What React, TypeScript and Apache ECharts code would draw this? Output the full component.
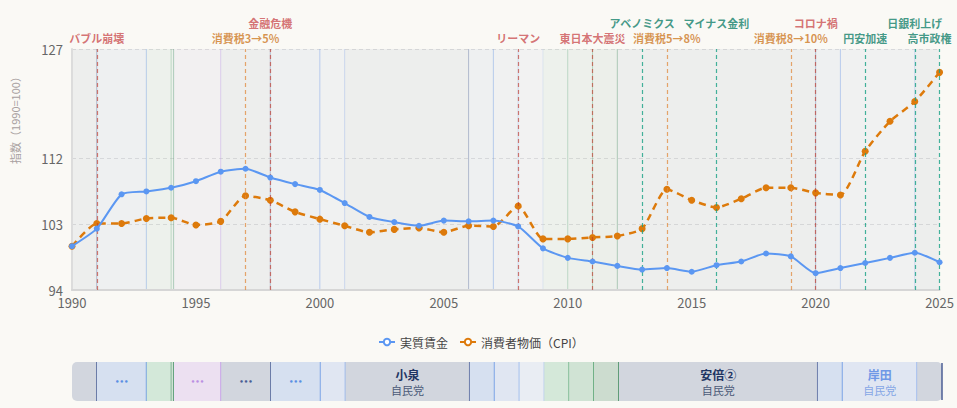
import React, { useEffect, useRef } from "react";
import * as echarts from "echarts";

// ---- data ----
const years = [1990, 1991, 1992, 1993, 1994, 1995, 1996, 1997, 1998, 1999, 2000, 2001, 2002, 2003, 2004, 2005, 2006, 2007, 2008, 2009, 2010, 2011, 2012, 2013, 2014, 2015, 2016, 2017, 2018, 2019, 2020, 2021, 2022, 2023, 2024, 2025];
const realWage = [100, 102.4, 107.1, 107.5, 108.0, 108.9, 110.2, 110.6, 109.4, 108.5, 107.7, 105.9, 104.0, 103.3, 102.8, 103.5, 103.4, 103.5, 102.7, 99.7, 98.4, 97.9, 97.3, 96.8, 97.0, 96.5, 97.4, 97.9, 99.0, 98.6, 96.3, 97.0, 97.7, 98.4, 99.1, 97.8];
const cpi = [100, 103.1, 103.1, 103.8, 103.9, 102.9, 103.4, 106.9, 106.3, 104.7, 103.7, 102.8, 101.9, 102.3, 102.5, 101.9, 102.8, 102.7, 105.5, 101.0, 101.0, 101.2, 101.4, 102.4, 107.8, 106.3, 105.3, 106.5, 108.0, 108.0, 107.3, 107.0, 113.0, 117.1, 119.8, 123.8];
const yTicks = [94, 103, 112, 127];

const eventYears = [1991, 1997, 1998, 2008, 2011, 2013, 2014, 2016, 2019, 2020, 2022, 2024, 2025];
const eventLabels = ["バブル崩壊", "消費税3→5%", "金融危機", "リーマン", "東日本大震災", "アベノミクス", "消費税5→8%", "マイナス金利", "消費税8→10%", "コロナ禍", "円安加速", "日銀利上げ", "高市政権"];
const eventKinds = ["crisis", "tax", "crisis", "crisis", "crisis", "policy", "tax", "policy", "tax", "crisis", "policy", "policy", "policy"];
const eventTier = [0, 0, 1, 0, 0, 1, 0, 1, 0, 1, 0, 1, 0];

const cabinetNames = ["海部", "宮澤", "細川", "羽田", "村山", "橋本", "小渕", "森", "小泉", "安倍①", "福田", "麻生", "鳩山", "菅", "野田", "安倍②", "菅", "岸田", "石破"];
const cabinetStart = [1990, 1991, 1993, 1994, 1994.1, 1996, 1998, 2000, 2001, 2006, 2007, 2008, 2009, 2010, 2011, 2012, 2020, 2021, 2024];
const cabinetEnd = [1991, 1993, 1994, 1994.1, 1996, 1998, 2000, 2001, 2006, 2007, 2008, 2009, 2010, 2011, 2012, 2020, 2021, 2024, 2025];
const cabinetParty = ["自民党", "自民党", "日本新党", "新生党", "社会党", "自民党", "自民党", "自民党", "自民党", "自民党", "自民党", "自民党", "民主党", "民主党", "民主党", "自民党", "自民党", "自民党", "自民党"];
const cabinetTone = ["ldp1", "ldp2", "jnp", "shinsei", "jsp", "ldp1", "ldp2", "ldp3", "ldp1", "ldp2", "ldp3", "ldp4", "dpj1", "dpj2", "dpj3", "ldp1", "ldp2", "ldp3", "ldp1"];

// ---- styles ----
const TONES: Record<string, { fill: string; accent: string; text: string; sub: string }> = {
  ldp1: { fill: "#d2d6de", accent: "#4b5e94", text: "#1f3563", sub: "#4b5a78" },
  ldp2: { fill: "#d6e0f0", accent: "#5b8fe3", text: "#4f7fd6", sub: "#5a7ab8" },
  ldp3: { fill: "#e0e6f2", accent: "#8fb1ec", text: "#6f98e6", sub: "#86a6e6" },
  ldp4: { fill: "#e9edf3", accent: "#b8cdee", text: "#8fb1ec", sub: "#8fb1ec" },
  jnp: { fill: "#d3e8d9", accent: "#6aa882", text: "#3f8a5b", sub: "#3f8a5b" },
  shinsei: { fill: "#cfe2d4", accent: "#3f9060", text: "#3f8a5b", sub: "#3f8a5b" },
  jsp: { fill: "#ece0f1", accent: "#bb90e3", text: "#b07ee0", sub: "#b07ee0" },
  dpj1: { fill: "#d4e8d9", accent: "#6cb084", text: "#3f8a5b", sub: "#3f8a5b" },
  dpj2: { fill: "#d0e3d4", accent: "#52a06e", text: "#3f8a5b", sub: "#3f8a5b" },
  dpj3: { fill: "#ccdccf", accent: "#3d8a5b", text: "#3f8a5b", sub: "#3f8a5b" },
};
const EVENT_STYLE: Record<string, { line: string; text: string; opacity: number }> = {
  crisis: { line: "#c0392b", text: "#c0262b", opacity: 0.65 },
  tax: { line: "#e08a3c", text: "#cc7418", opacity: 0.75 },
  policy: { line: "#16a085", text: "#12806a", opacity: 0.8 },
};
const FONT = "'Noto Sans CJK JP', 'Noto Sans', sans-serif";
const BG = "#faf9f5";
const PLOT_BG = "#f4f4f2";
const BLUE = "#5b97f2";
const ORANGE = "#dd7a0b";

export default function App() {
  const ref = useRef<HTMLDivElement>(null);

  useEffect(() => {
    document.body.style.margin = "0";
    document.body.style.background = BG;
    if (!ref.current) return;
    const chart = echarts.init(ref.current, undefined, { renderer: "svg" });
    const yMin = yTicks[0];
    const yMax = yTicks[yTicks.length - 1];
    const cabData = cabinetStart.map((s, i) => [s, cabinetEnd[i], i]);

    const option: any = {
      animation: false,
      backgroundColor: BG,
      textStyle: { fontFamily: FONT },
      legend: {
        data: [
          {
            name: "実質賃金",
            itemStyle: { color: "#fff", borderColor: BLUE, borderWidth: 2 },
            lineStyle: { color: BLUE, width: 2, type: "solid" },
          },
          {
            name: "消費者物価（CPI）",
            itemStyle: { color: "#fff", borderColor: ORANGE, borderWidth: 2 },
            lineStyle: { color: ORANGE, width: 2, type: "solid" },
          },
        ],
        left: 373,
        top: 331,
        itemWidth: 16,
        itemHeight: 8,
        itemGap: 11,
        textStyle: { fontSize: 12, color: "#444", fontFamily: FONT },
      },
      grid: [
        { left: 72, right: 16, top: 49, bottom: 118, show: true, backgroundColor: PLOT_BG, borderWidth: 0 },
        { left: 72, right: 15, top: 362, height: 39 },
      ],
      xAxis: [
        {
          type: "value",
          min: 1990,
          max: 2025,
          interval: 5,
          gridIndex: 0,
          axisLine: { show: true, lineStyle: { color: "#d6d6d6", width: 2 } },
          axisTick: { show: false },
          splitLine: { show: false },
          axisLabel: { formatter: (v: number) => String(v), fontSize: 13, color: "#666", margin: 6 },
        },
        { type: "value", min: 1990, max: 2025, gridIndex: 1, show: false },
      ],
      yAxis: [
        {
          type: "value",
          min: yMin,
          max: yMax,
          gridIndex: 0,
          name: "指数（1990=100）",
          nameLocation: "middle",
          nameGap: 52,
          nameTextStyle: { fontSize: 11, color: "#a8a0a0", padding: [0, 0, 0, 104] },
          axisLine: { show: true, lineStyle: { color: "#dcdcdc", width: 2 } },
          axisTick: { show: false, customValues: yTicks },
          axisLabel: { customValues: yTicks, fontSize: 13, color: "#666", margin: 9 },
          splitLine: { show: true, lineStyle: { color: "#d6d6d6", type: [4, 3] } },
        },
        { type: "value", min: 0, max: 1, gridIndex: 1, show: false },
      ],
      series: [
        {
          type: "custom",
          name: "bands",
          xAxisIndex: 0,
          yAxisIndex: 0,
          silent: true,
          z: 0,
          dimensions: ["start", "end", "idx"],
          encode: { x: [0, 1] },
          data: cabData,
          renderItem: (params: any, api: any) => {
            const i = params.dataIndex;
            const tl = api.coord([cabinetStart[i], yMax]);
            const br = api.coord([cabinetEnd[i], yMin]);
            const tone = TONES[cabinetTone[i]];
            const children: any[] = [
              {
                type: "rect",
                shape: { x: tl[0], y: tl[1], width: br[0] - tl[0], height: br[1] - tl[1] },
                style: { fill: tone.fill, opacity: 0.2 },
              },
            ];
            if (i < cabinetNames.length - 1) {
              children.push({
                type: "line",
                shape: { x1: br[0], y1: tl[1], x2: br[0], y2: br[1] },
                style: { stroke: tone.accent, lineWidth: 1, opacity: 0.4 },
              });
            }
            return { type: "group", children };
          },
        },
        {
          type: "custom",
          name: "cabinets",
          xAxisIndex: 1,
          yAxisIndex: 1,
          silent: true,
          dimensions: ["start", "end", "idx"],
          encode: { x: [0, 1] },
          data: cabData,
          renderItem: (params: any, api: any) => {
            const i = params.dataIndex;
            const p0 = api.coord([cabinetStart[i], 1]);
            const p1 = api.coord([cabinetEnd[i], 0]);
            const w = p1[0] - p0[0];
            const h = p1[1] - p0[1];
            const tone = TONES[cabinetTone[i]];
            const first = i === 0;
            const last = i === cabinetNames.length - 1;
            const r = first ? [5, 0, 0, 5] : last ? [0, 5, 5, 0] : 0;
            const children: any[] = [
              { type: "rect", shape: { x: p0[0], y: p0[1], width: w, height: h, r }, style: { fill: tone.fill } },
              {
                type: "line",
                shape: { x1: p1[0], y1: p0[1] + (last ? 1 : 0), x2: p1[0], y2: p1[1] - (last ? 1 : 0) },
                style: { stroke: tone.accent, lineWidth: 1.5 },
              },
            ];
            const span = cabinetEnd[i] - cabinetStart[i];
            const cx = p0[0] + w / 2;
            const cy = p0[1] + h / 2;
            if (span >= 3) {
              children.push({
                type: "text",
                style: { text: cabinetNames[i], x: cx, y: cy - 7, align: "center", verticalAlign: "middle", fontSize: 12, fontWeight: "bold", fill: tone.text, fontFamily: FONT },
              });
              children.push({
                type: "text",
                style: { text: cabinetParty[i], x: cx, y: cy + 8, align: "center", verticalAlign: "middle", fontSize: 11, fill: tone.sub, fontFamily: FONT },
              });
            } else if (span >= 1.5) {
              children.push({
                type: "text",
                style: { text: "•••", x: cx, y: cy, align: "center", verticalAlign: "middle", fontSize: 7, fontWeight: "bold", fill: tone.accent, fontFamily: "'DejaVu Sans', sans-serif" },
              });
            }
            return { type: "group", children };
          },
        },
        {
          type: "line",
          name: "実質賃金",
          xAxisIndex: 0,
          yAxisIndex: 0,
          z: 5,
          data: years.map((y, i) => [y, realWage[i]]),
          smooth: 0.2,
          symbol: "circle",
          symbolSize: 6,
          lineStyle: { width: 2, color: BLUE },
          itemStyle: { color: BLUE },
          markLine: {
            silent: true,
            symbol: ["none", "none"],
            animation: false,
            data: eventYears.map((y, i) => {
              const st = EVENT_STYLE[eventKinds[i]];
              return {
                xAxis: y,
                lineStyle: { color: st.line, type: [4, 3], width: 1.2, opacity: st.opacity },
                label: {
                  show: true,
                  position: "end",
                  formatter: eventLabels[i],
                  color: st.text,
                  fontSize: 11,
                  fontWeight: "bold",
                  fontFamily: FONT,
                  distance: eventTier[i] === 1 ? 21 : 6,
                  offset: i === eventYears.length - 1 ? [-10, 0] : [0, 0],
                },
              };
            }),
          },
        },
        {
          type: "line",
          name: "消費者物価（CPI）",
          xAxisIndex: 0,
          yAxisIndex: 0,
          z: 4,
          data: years.map((y, i) => [y, cpi[i]]),
          smooth: 0.2,
          symbol: "circle",
          symbolSize: 7,
          lineStyle: { width: 2.5, color: ORANGE, type: [7, 5] },
          itemStyle: { color: ORANGE },
        },
      ],
    };
    chart.setOption(option);
    return () => chart.dispose();
  }, []);

  return <div ref={ref} style={{ width: 957, height: 408, background: BG }} />;
}
